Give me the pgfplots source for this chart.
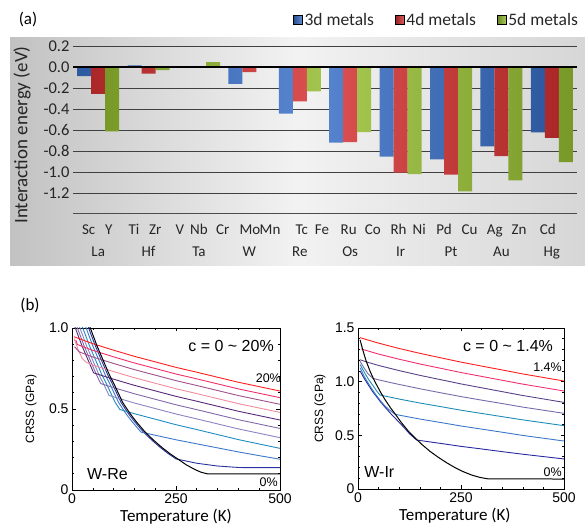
\documentclass[border=0pt]{standalone}
\usepackage{pgfplots}
\pgfplotsset{compat=1.18}
\usepackage{pgfplotstable}
\usepackage{fontspec}
\setmainfont{Liberation Sans}
\newfontfamily\calib{Carlito}
\newfontfamily\arial{Liberation Sans}

\definecolor{c3d}{RGB}{58,112,200}
\definecolor{c4d}{RGB}{214,50,50}
\definecolor{c5d}{RGB}{150,190,50}

\definecolor{k20}{HTML}{FF1E1E}
\definecolor{k18}{HTML}{F0306A}
\definecolor{k16}{HTML}{A0508C}
\definecolor{k14}{HTML}{F08C9C}
\definecolor{k12}{HTML}{5A2878}
\definecolor{k10}{HTML}{8068AA}
\definecolor{k08}{HTML}{8A84C4}
\definecolor{k06}{HTML}{1E8CC0}
\definecolor{k04}{HTML}{3C78C8}
\definecolor{k02}{HTML}{2832A0}

\definecolor{r14}{HTML}{FF1E1E}
\definecolor{r12}{HTML}{F0306A}
\definecolor{r10}{HTML}{5A4088}
\definecolor{r08}{HTML}{7A6AAA}
\definecolor{r06}{HTML}{1E8CB4}
\definecolor{r04}{HTML}{3C78C8}
\definecolor{r02}{HTML}{2828A0}

\pgfplotstableread{
g a b c
0 -0.086 -0.257 -0.613
1 0.015 -0.064 -0.030
2 nan 0.006 0.047
3 -0.160 -0.048 nan
4 -0.445 -0.327 -0.232
5 -0.720 -0.715 -0.620
6 -0.854 -1.007 -1.020
7 -0.880 -1.026 -1.185
8 -0.756 -0.850 -1.080
9 -0.623 -0.676 -0.905
}\bardata

\begin{document}
\begin{tikzpicture}
\path[use as bounding box] (0pt,0pt) rectangle (585pt,526pt);
\shade[left color=black!24, right color=black!16, middle color=black!5] (10pt,260pt) rectangle (585pt,488pt);
\node[font=\calib\fontsize{17}{20}\selectfont] at (28pt,507pt) {(a)};
\node[font=\calib\fontsize{17}{20}\selectfont] at (30pt,221pt) {(b)};

% ---------------- panel (a)
\begin{axis}[
  at={(73pt,312pt)}, anchor=south west, scale only axis,
  width=504pt, height=168pt,
  xmin=-0.5, xmax=9.5, ymin=-1.4, ymax=0.2,
  axis line style={draw=none},
  major tick length=0pt,
  ytick={-1.2,-1,-0.8,-0.6,-0.4,-0.2,0,0.2},
  ymajorgrids, grid style={black!75, line width=0.8pt},
  yticklabel style={font=\calib\fontsize{16.5}{19}\selectfont, text=black!85,
    /pgf/number format/fixed, /pgf/number format/fixed zerofill,
    /pgf/number format/precision=1, /pgf/number format/assume math mode=true},
  xtick={-0.19,0.21,0.71,1.13,1.62,2.0,2.47,3.01,3.41,4.04,4.44,4.97,5.45,5.96,6.37,6.86,7.37,7.87,8.35,8.92},
  xticklabels={Sc,Y,Ti,Zr,V,Nb,Cr,Mo,Mn,Tc,Fe,Ru,Co,Rh,Ni,Pd,Cu,Ag,Zn,Cd},
  xticklabel style={font=\calib\fontsize{15}{18}\selectfont, text=black!85},
  xticklabel shift=7pt,
  extra x ticks={0,1,2,3,4,5,6,7,8,9},
  extra x tick labels={La,Hf,Ta,W,Re,Os,Ir,Pt,Au,Hg},
  extra x tick style={xticklabel shift=29pt},
  ylabel={Interaction energy (eV)},
  ylabel style={font=\calib\fontsize{19}{22}\selectfont, text=black!85,
    at={(axis description cs:-0.101,0.47)}, anchor=center},
  legend style={at={(axis description cs:1.012,1.155)}, anchor=east,
    draw=none, fill=none, font=\calib\fontsize{17.5}{20}\selectfont, text=black!85,
    legend columns=3, /tikz/every even column/.append style={column sep=19pt}},
  legend cell align=left,
]
\addlegendimage{legend image code/.code={\shade[left color=c3d!70!black, right color=c3d!80!white] (0pt,-4.5pt) rectangle (9pt,4.5pt);}}
\addlegendentry{3d metals}
\addlegendimage{legend image code/.code={\shade[left color=c4d!70!black, right color=c4d!80!white] (0pt,-4.5pt) rectangle (9pt,4.5pt);}}
\addlegendentry{4d metals}
\addlegendimage{legend image code/.code={\shade[left color=c5d!70!black, right color=c5d!80!white] (0pt,-4.5pt) rectangle (9pt,4.5pt);}}
\addlegendentry{5d metals}

\addplot[ybar, bar width=14pt, bar shift=-14pt, draw=none, forget plot,
  left color=c3d!80!black, right color=c3d!80!black, middle color=c3d!85!white] table[x=g,y=a] {\bardata};
\addplot[ybar, bar width=14pt, bar shift=0pt, draw=none, forget plot,
  left color=c4d!80!black, right color=c4d!80!black, middle color=c4d!85!white] table[x=g,y=b] {\bardata};
\addplot[ybar, bar width=14pt, bar shift=14pt, draw=none, forget plot,
  left color=c5d!80!black, right color=c5d!80!black, middle color=c5d!85!white] table[x=g,y=c] {\bardata};

\draw[black, line width=1.6pt] (axis cs:-0.5,0) -- (axis cs:9.5,0);
\draw[black!70, line width=1pt] (axis cs:-0.5,-1.4) -- (axis cs:9.5,-1.4);
\end{axis}

% ---------------- panel (b) left: W-Re
\begin{axis}[
  at={(72pt,36pt)}, anchor=south west, scale only axis,
  width=208pt, height=162pt,
  xmin=0, xmax=500, ymin=0, ymax=1,
  xtick={0,250,500}, ytick={0,0.5,1}, yticklabels={0,0.5,1.0},
  minor x tick num=4, minor y tick num=4,
  tick align=inside, major tick length=3.5pt, minor tick length=2pt,
  tick style={black, line width=0.6pt},
  axis line style={line width=0.9pt},
  ticklabel style={font=\arial\fontsize{14}{16}\selectfont},
  /pgf/number format/assume math mode=true,
  xlabel={Temperature (K)},
  xlabel style={font=\calib\fontsize{17}{20}\selectfont, at={(axis description cs:0.5,-0.167)}, anchor=center},
  ylabel={CRSS (GPa)},
  ylabel style={font=\arial\fontsize{12}{14}\selectfont, at={(axis description cs:-0.197,0.5)}, anchor=center},
  every axis plot/.append style={line width=0.9pt, line join=round},
]
\addplot[k02] coordinates {(26,1.10)(40,1.0)(56,0.89)(71,0.80)(86,0.71)(96,0.66)(118,0.54)(136,0.47)(151,0.42)(171,0.36)(191,0.31)(211,0.265)(231,0.225)(250,0.192)(300,0.165)(350,0.148)(400,0.139)(420,0.138)(500,0.138)};
\addplot[k04] coordinates {(20,1.10)(34,1.0)(50,0.89)(65,0.80)(80,0.71)(90,0.66)(112,0.54)(130,0.47)(145,0.42)(166,0.357)(200,0.338)(250,0.31)(300,0.285)(350,0.26)(400,0.235)(450,0.212)(500,0.19)};
\addplot[k06] coordinates {(12,1.10)(26,1.0)(42,0.89)(57,0.80)(72,0.71)(82,0.66)(104,0.54)(115,0.497)(150,0.471)(200,0.437)(250,0.403)(300,0.373)(350,0.342)(400,0.311)(450,0.284)(500,0.257)};
\addplot[k08] coordinates {(5,1.10)(19,1.0)(35,0.89)(50,0.80)(65,0.71)(75,0.66)(89,0.584)(100,0.575)(150,0.537)(200,0.503)(250,0.469)(300,0.439)(350,0.408)(400,0.377)(450,0.35)(500,0.323)};
\addplot[k10] coordinates {(5,1.057)(13,1.0)(29,0.89)(44,0.80)(59,0.71)(69,0.657)(100,0.632)(150,0.594)(200,0.56)(250,0.526)(300,0.496)(350,0.465)(400,0.434)(450,0.407)(500,0.38)};
\addplot[k12] coordinates {(5,1.021)(8,1.0)(24,0.89)(39,0.80)(52,0.723)(75,0.704)(100,0.684)(150,0.646)(200,0.612)(250,0.578)(300,0.548)(350,0.517)(400,0.486)(450,0.459)(500,0.432)};
\addplot[k14] coordinates {(5,0.935)(15,0.865)(25,0.81)(35,0.787)(50,0.771)(75,0.751)(100,0.731)(150,0.693)(200,0.659)(250,0.625)(300,0.595)(350,0.564)(400,0.533)(450,0.506)(500,0.479)};
\addplot[k16] coordinates {(6,0.885)(17,0.853)(25,0.845)(50,0.821)(75,0.801)(100,0.781)(150,0.743)(200,0.709)(250,0.675)(300,0.645)(350,0.614)(400,0.583)(450,0.556)(500,0.529)};
\addplot[k18] coordinates {(9,0.926)(13,0.898)(25,0.886)(50,0.862)(75,0.842)(100,0.822)(150,0.784)(200,0.75)(250,0.716)(300,0.686)(350,0.655)(400,0.624)(450,0.597)(500,0.57)};
\addplot[k20] coordinates {(5,0.946)(25,0.927)(50,0.903)(75,0.883)(100,0.863)(150,0.825)(200,0.791)(250,0.757)(300,0.727)(350,0.696)(400,0.665)(450,0.638)(500,0.611)};
\addplot[black, line width=1pt] coordinates {(30,1.10)(44,1.0)(60,0.89)(75,0.80)(90,0.71)(100,0.66)(122,0.54)(140,0.47)(155,0.42)(175,0.36)(195,0.31)(215,0.265)(235,0.225)(255,0.19)(275,0.155)(295,0.127)(310,0.11)(325,0.1)(500,0.1)};
\node[anchor=east, inner sep=0pt, font=\arial\fontsize{16}{18}\selectfont] at (rel axis cs:0.971,0.889) {c = 0 \textasciitilde{} 20\%};
\node[anchor=east, inner sep=0pt, font=\arial\fontsize{12.5}{14}\selectfont] at (rel axis cs:1.005,0.69) {20\%};
\node[anchor=east, inner sep=0pt, font=\arial\fontsize{12.5}{14}\selectfont] at (rel axis cs:0.99,0.05) {0\%};
\node[anchor=west, inner sep=0pt, font=\arial\fontsize{16}{18}\selectfont] at (rel axis cs:0.072,0.1) {W-Re};
\end{axis}

% ---------------- panel (b) right: W-Ir
\begin{axis}[
  at={(358pt,37pt)}, anchor=south west, scale only axis,
  width=206pt, height=161pt,
  xmin=0, xmax=500, ymin=0, ymax=1.5,
  xtick={0,250,500}, ytick={0,0.5,1,1.5}, yticklabels={0,0.5,1.0,1.5},
  minor x tick num=4, minor y tick num=4,
  tick align=inside, major tick length=3.5pt, minor tick length=2pt,
  tick style={black, line width=0.6pt},
  axis line style={line width=0.9pt},
  ticklabel style={font=\arial\fontsize{14}{16}\selectfont},
  /pgf/number format/assume math mode=true,
  xlabel={Temperature (K)},
  xlabel style={font=\calib\fontsize{17}{20}\selectfont, at={(axis description cs:0.47,-0.167)}, anchor=center},
  ylabel={CRSS (GPa)},
  ylabel style={font=\arial\fontsize{12}{14}\selectfont, at={(axis description cs:-0.184,0.5)}, anchor=center},
  every axis plot/.append style={line width=0.9pt, line join=round},
]
\addplot[r02] coordinates {(5,1.10)(15,1.03)(25,0.97)(35,0.91)(45,0.86)(55,0.81)(65,0.765)(80,0.70)(95,0.64)(110,0.58)(125,0.515)(142,0.457)(150,0.452)(200,0.425)(250,0.397)(300,0.373)(350,0.348)(400,0.324)(450,0.302)(500,0.28)};
\addplot[r04] coordinates {(5,1.13)(15,1.05)(25,0.985)(35,0.925)(45,0.87)(55,0.82)(65,0.775)(75,0.74)(90,0.696)(100,0.688)(150,0.652)(200,0.62)(250,0.587)(300,0.558)(350,0.529)(400,0.499)(450,0.473)(500,0.447)};
\addplot[r06] coordinates {(5,1.16)(15,1.09)(25,1.025)(35,0.97)(45,0.915)(53,0.876)(75,0.858)(100,0.838)(150,0.801)(200,0.768)(250,0.734)(300,0.704)(350,0.674)(400,0.644)(450,0.617)(500,0.59)};
\addplot[r08] coordinates {(5,1.19)(15,1.125)(25,1.07)(36,1.031)(50,1.017)(75,0.995)(100,0.974)(150,0.934)(200,0.897)(250,0.861)(300,0.828)(350,0.796)(400,0.763)(450,0.734)(500,0.705)};
\addplot[r10] coordinates {(4,1.205)(25,1.179)(50,1.151)(75,1.127)(100,1.103)(150,1.059)(200,1.019)(250,0.979)(300,0.943)(350,0.907)(400,0.871)(450,0.839)(500,0.807)};
\addplot[r12] coordinates {(8,1.305)(25,1.285)(50,1.257)(75,1.233)(100,1.209)(150,1.165)(200,1.125)(250,1.085)(300,1.049)(350,1.013)(400,0.977)(450,0.945)(500,0.913)};
\addplot[r14] coordinates {(5,1.41)(25,1.387)(50,1.359)(75,1.334)(100,1.309)(150,1.264)(200,1.223)(250,1.182)(300,1.145)(350,1.109)(400,1.072)(450,1.039)(500,1.006)};
\addplot[black, line width=1pt] coordinates {(5,1.39)(12,1.29)(20,1.19)(30,1.09)(41,1.0)(55,0.9)(66,0.83)(80,0.75)(90,0.70)(105,0.62)(122,0.54)(140,0.47)(155,0.415)(175,0.35)(195,0.295)(215,0.245)(235,0.2)(255,0.162)(276,0.13)(296,0.108)(316,0.094)(500,0.093)};
\node[anchor=east, inner sep=0pt, font=\arial\fontsize{16}{18}\selectfont] at (rel axis cs:0.947,0.889) {c = 0 \textasciitilde{} 1.4\%};
\node[anchor=east, inner sep=0pt, font=\arial\fontsize{12.5}{14}\selectfont] at (rel axis cs:0.99,0.758) {1.4\%};
\node[anchor=east, inner sep=0pt, font=\arial\fontsize{12.5}{14}\selectfont] at (rel axis cs:0.99,0.105) {0\%};
\node[anchor=west, inner sep=0pt, font=\arial\fontsize{16}{18}\selectfont] at (rel axis cs:0.03,0.105) {W-Ir};
\end{axis}
\end{tikzpicture}
\end{document}
